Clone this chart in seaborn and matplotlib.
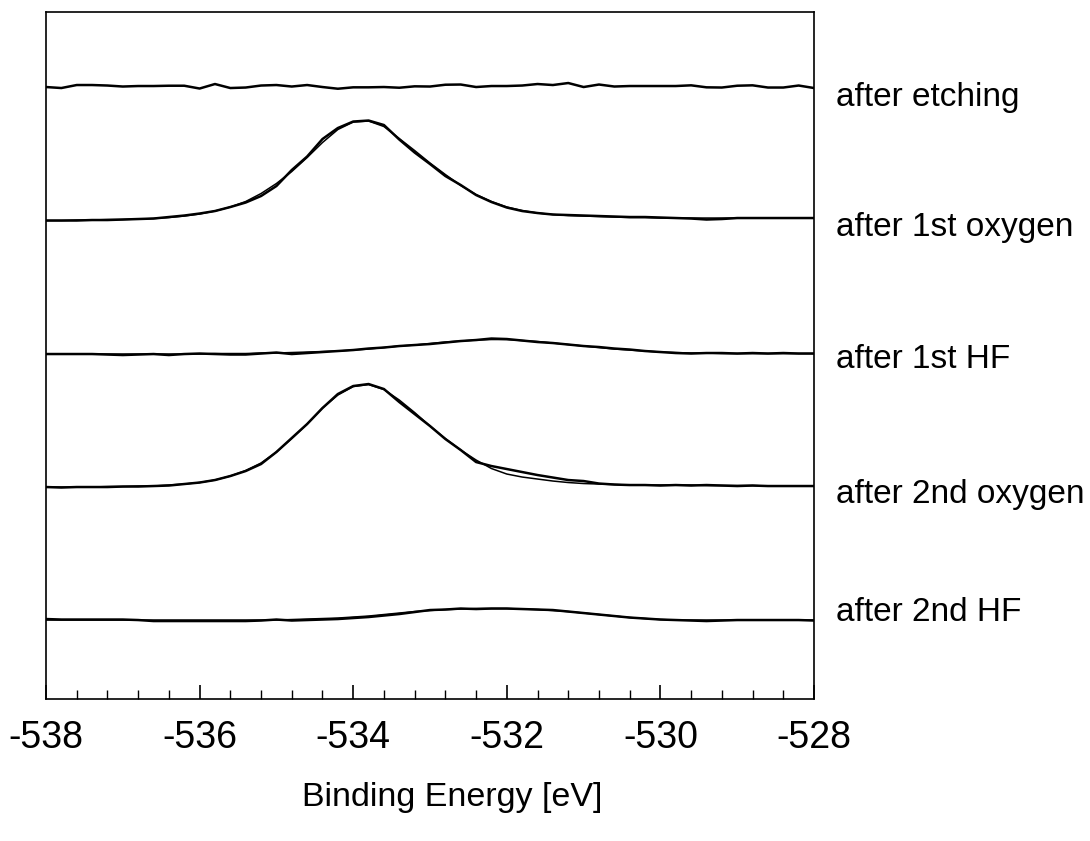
import numpy as np
import seaborn as sns
import matplotlib.pyplot as plt
from matplotlib.ticker import MultipleLocator
import matplotlib.transforms as mtransforms


# binding energy grid (eV), 0.2 eV steps
energy = np.linspace(-538, -528, 51)

# spectra relative to their own baseline (a.u.)
etching = [0, -1, 2, 2, 1.5, 0.5, 1, 1, 1.3, 1.3,
           -1.5, 3, -1, -0.5, 1.5, 2, 0.5, 2, 0, -1.7,
           -0.3, -0.3, 0, -0.7, 0.7, 0.5, 2.3, 2.5, 0, 1,
           1, 1.5, 3, 2, 4, 0, 2.5, 0.5, 1, 1,
           1, 1, 1.7, -0.3, -0.5, 1.3, 1.7, -0.5, -0.5, 1.5,
           -1]

oxygen1 = [0, 0, 0, 0.5, 0.5, 1, 1.5, 2, 3.5, 5,
           7, 9.5, 13.5, 18, 24.5, 34.5, 50.5, 64, 81.5, 92.5,
           99, 100, 95.5, 81, 68, 56.5, 44.5, 35.5, 25.5, 18.5,
           13, 9.5, 7.5, 6, 5.5, 5, 4.5, 4, 3.5, 3.5,
           3, 2.5, 2, 1, 1.5, 2.5, 2.5, 2.5, 2.5, 2.5,
           2.5]
oxygen1_fit = [0, 0, 0.5, 0.5, 1, 1, 1.5, 2, 3, 4.5,
               6.5, 9.5, 13.5, 19, 27, 37, 49, 63, 78, 91,
               98.5, 99.5, 94, 82, 70, 57.5, 46, 35, 26, 19,
               13.5, 10, 7.5, 6, 5, 4.5, 4, 3.5, 3, 3,
               2.5, 2.5, 2.5, 2.5, 2.5, 2.5, 2.5, 2.5, 2.5, 2.5,
               2.5]

hf1 = [0, 0, 0, 0, -0.5, -1, -0.5, 0, -1, 0,
       0.5, 0, -0.5, -0.5, 0.5, 1.5, 0, 1, 2, 3,
       4, 5.5, 6.5, 8, 9, 10, 11.5, 13, 14, 15.5,
       15, 13.5, 12, 11, 9.5, 8, 7, 5.5, 4.5, 3,
       2, 1, 0.5, 1, 1, 0.5, 1, 0.5, 1, 0.5,
       0.5]
hf1_fit = [0, 0, 0, 0, 0, 0, 0, 0, 0, 0,
           0, 0.5, 0.5, 0.5, 1, 1, 1.5, 2, 2.5, 3,
           4, 5, 6.5, 8, 9, 10.5, 12, 13, 14, 14.5,
           14.5, 13.5, 12.5, 11, 9.5, 8, 6.5, 5, 4, 3,
           2, 1.5, 1, 1, 0.5, 0.5, 0.5, 0.5, 0.5, 0.5,
           0.5]

oxygen2 = [0, -0.5, 0, 0, 0, 0.5, 0.5, 1, 1.5, 3,
           4.5, 7, 11, 16, 23, 35, 49, 63, 79, 93,
           101, 103, 98, 85, 73, 61, 48, 37, 25, 21,
           18, 15, 12, 9.5, 7, 6, 3.5, 2.5, 2, 2,
           1.5, 2, 1.5, 2, 1.5, 1, 1.5, 1, 1, 1,
           1]
oxygen2_fit = [0, 0, 0, 0, 0.5, 0.5, 1, 1, 2, 3,
               4.5, 7, 11, 16.5, 24, 35, 48.5, 63, 79, 92,
               100.5, 102.5, 97.5, 87, 74.5, 61, 48.5, 37, 27, 18.5,
               13, 10, 8, 6, 4.5, 3.5, 3, 2.5, 2, 2,
               2, 2, 2, 1.5, 1.5, 1.5, 1.5, 1, 1, 1,
               1]

hf2 = [1, 0.5, 0.5, 0.5, 0.5, 0.5, 0, -1, -1, -1,
       -1, -1, -1, -1, -0.5, 0.5, -0.5, 0, 0.5, 1,
       2, 3, 4.5, 6, 8, 10, 10.5, 11.5, 11, 11.5,
       11.5, 11, 10.5, 10, 8.5, 7, 5.5, 4, 2.5, 1.5,
       0.5, 0, -0.5, -1, -0.5, 0, 0, 0, 0, 0,
       -0.5]
hf2_fit = [0, 0, 0, 0, 0, 0, 0, 0, 0, 0,
           0, 0, 0, 0, 0, 0, 0.5, 1, 1.5, 2,
           3, 4, 5.5, 7, 8.5, 9.5, 10.5, 11, 11.5, 11.5,
           11.5, 11, 10.5, 9.5, 8.5, 7, 5.5, 4, 2.5, 1.5,
           0.5, 0, 0, 0, 0, 0, 0, 0, 0, 0,
           0]

labels = ["after etching", "after 1st oxygen", "after 1st HF",
          "after 2nd oxygen", "after 2nd HF"]
offsets = [612, 478.5, 345, 212, 79]
label_y = [602, 472, 340, 205, 87]
x_ticks = [-538, -536, -534, -532, -530, -528]


def main():
    sns.set_style("white")
    plt.rcParams['font.family'] = ['Liberation Sans', 'DejaVu Sans']
    plt.rcParams['text.color'] = 'black'
    plt.rcParams['axes.labelcolor'] = 'black'
    plt.rcParams['xtick.color'] = 'black'

    fig = plt.figure(figsize=(10.9, 8.41), dpi=100)
    ax = fig.add_axes([0.0422, 0.1688, 0.7046, 0.8169])

    spectra = [(etching, None), (oxygen1, oxygen1_fit), (hf1, hf1_fit),
               (oxygen2, oxygen2_fit), (hf2, hf2_fit)]
    for (data, fit), off in zip(spectra, offsets):
        if fit is not None:
            sns.lineplot(x=energy, y=np.array(fit) + off, ax=ax,
                         color="black", linewidth=1.1)
        sns.lineplot(x=energy, y=np.array(data) + off, ax=ax,
                     color="black", linewidth=1.8)

    ax.set_xlim(-538, -528)
    ax.set_ylim(0, 687)
    ax.set_xticks(x_ticks)
    ax.set_xticklabels([str(t) for t in x_ticks])
    ax.xaxis.set_minor_locator(MultipleLocator(0.4))
    ax.set_yticks([])
    ax.tick_params(axis="x", which="major", direction="in", length=10,
                   width=1.2, labelsize=27, pad=15, bottom=True, top=False,
                   colors="black")
    ax.tick_params(axis="x", which="minor", direction="in", length=6.5,
                   width=1.0, bottom=True, top=False, colors="black")
    for s in ax.spines.values():
        s.set_visible(True)
        s.set_color("black")
        s.set_linewidth(1.2)

    ax.set_xlabel("Binding Energy [eV]", fontsize=24.5, color="black")
    ax.xaxis.set_label_coords(0.529, -0.121)
    ax.set_ylabel("")

    trans = mtransforms.blended_transform_factory(ax.transAxes, ax.transData)
    for lab, y in zip(labels, label_y):
        ax.text(1.029, y, lab, transform=trans, ha="left", va="center",
                fontsize=24, color="black")

    fig.savefig("out.png", dpi=100)


if __name__ == "__main__":
    main()
